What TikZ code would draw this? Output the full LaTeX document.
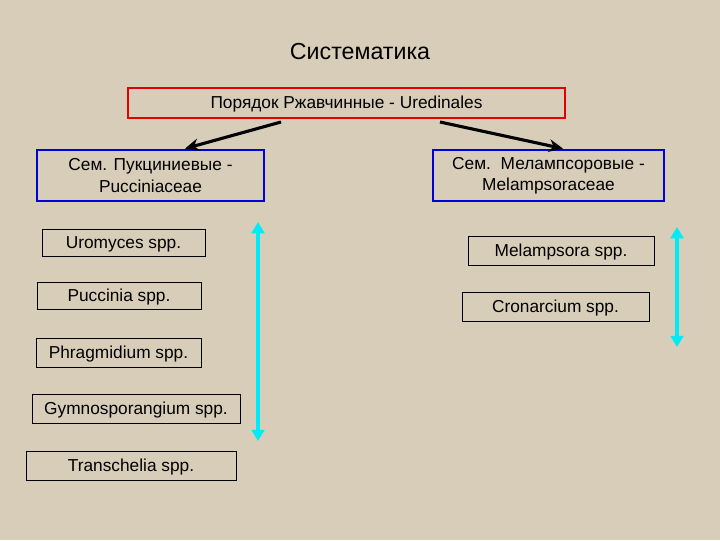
\documentclass[tikz,border=0pt]{standalone}
\usepackage{fontspec}
\setmainfont{Liberation Sans}
\usetikzlibrary{arrows.meta}
\definecolor{paper}{RGB}{216,205,184}
\definecolor{aqua}{RGB}{0,235,245}
\tikzset{
  genus/.style={draw=black,line width=0.6pt,inner sep=0pt,text height=1.6ex,text depth=0pt,
    font=\fontsize{12.3}{14}\selectfont},
  family/.style={draw=blue!85!black,line width=2pt,inner sep=0pt,align=center,
    font=\fontsize{12.3}{15}\selectfont},
  order/.style={draw=red!90!black,line width=2pt,inner sep=0pt,text height=1.6ex,text depth=0pt,
    font=\fontsize{12.3}{14}\selectfont},
}
\begin{document}
\begin{tikzpicture}[x=0.025cm,y=-0.025cm]
    \fill[paper] (0,0) rectangle (720,540);
    \node (title) at (360,52) {\fontsize{16.5}{18}\selectfont Систематика};
    \node[order,minimum width=10.925cm,minimum height=0.75cm] (ured) at (346.5,103)
      {Порядок Ржавчинные - Uredinales};
    \node[family,minimum width=5.675cm,minimum height=1.275cm] (pucc) at (150.5,175.5)
      {Сем. Пукциниевые -\\Pucciniaceae};
    \node[family,minimum width=5.775cm,minimum height=1.275cm] (melam) at (548.5,175.5)
      {Сем.\ \ Мелампсоровые -\\Melampsoraceae};
    % genera of Pucciniaceae
    \node[genus,minimum width=4.075cm,minimum height=0.675cm] (urom) at (123.5,242.5) {Uromyces spp.};
    \node[genus,minimum width=4.1cm,minimum height=0.675cm] (puccinia) at (119,295.5) {Puccinia spp.};
    \node[genus,minimum width=4.125cm,minimum height=0.725cm] (phrag) at (118.5,352.5) {Phragmidium spp.};
    \node[genus,minimum width=5.2cm,minimum height=0.725cm] (gymno) at (136,408.5) {Gymnosporangium spp.};
    \node[genus,minimum width=5.25cm,minimum height=0.725cm] (transch) at (131,465.5) {Transchelia spp.};
    % genera of Melampsoraceae
    \node[genus,minimum width=4.65cm,minimum height=0.725cm] (melampsora) at (561,250.5) {Melampsora spp.};
    \node[genus,minimum width=4.675cm,minimum height=0.725cm] (cronar) at (555.5,306.5) {Cronarcium spp.};
    % arrows
    \coordinate (l0) at (281,122);
    \coordinate (r0) at (440,122);
    \draw[line width=2.2pt,-{Stealth[length=10pt,width=9pt]}] (l0) -- (pucc.north -| 185,0);
    \draw[line width=2.2pt,-{Stealth[length=10pt,width=9pt]}] (r0) -- (melam.north -| 563,0);
    \coordinate (ltop) at (258,222);
    \coordinate (lbot) at (258,441);
    \coordinate (rtop) at (677,227);
    \coordinate (rbot) at (677,347);
    \draw[aqua,line width=3pt,{Triangle[length=8pt,width=9pt]}-{Triangle[length=8pt,width=9pt]}] (ltop) -- (lbot);
    \draw[aqua,line width=3pt,{Triangle[length=8pt,width=9pt]}-{Triangle[length=8pt,width=9pt]}] (rtop) -- (rbot);
\end{tikzpicture}
\end{document}
